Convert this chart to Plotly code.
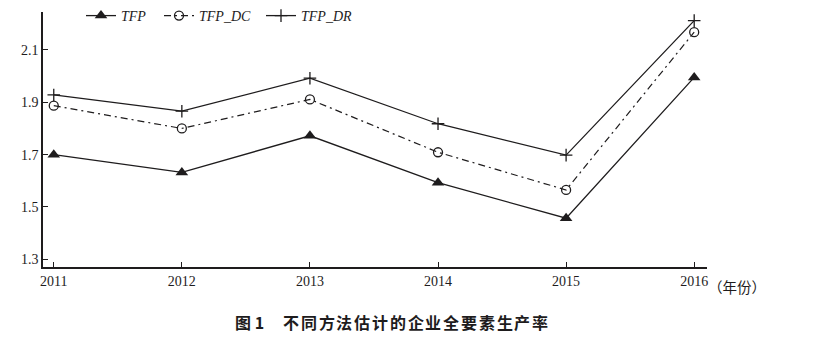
import plotly.graph_objects as go

# Years on the horizontal axis
years = [2011, 2012, 2013, 2014, 2015, 2016]

# Total factor productivity under three estimation methods
tfp = [1.70, 1.632, 1.772, 1.593, 1.457, 1.995]
tfp_dc = [1.887, 1.800, 1.911, 1.709, 1.565, 2.168]
tfp_dr = [1.928, 1.866, 1.992, 1.818, 1.698, 2.212]

y_ticks = [1.3, 1.5, 1.7, 1.9, 2.1]
y_tick_text = ["1.3", "1.5", "1.7", "1.9", "2.1"]

caption_label = "图 1"
caption_title = "不同方法估计的企业全要素生产率"

INK = "#1e1c1d"
SERIF = "Liberation Serif, Times New Roman, serif"
CJK = "Noto Sans CJK SC"

W, H = 822, 345
L, R, T, B = 43, 115, 12, 78

fig = go.Figure()

fig.add_trace(go.Scatter(
    x=years, y=tfp, mode="lines+markers", name="<i>TFP</i>",
    line=dict(color=INK, width=1.3),
    marker=dict(symbol="triangle-up", size=11, color=INK),
    legend="legend",
))
fig.add_trace(go.Scatter(
    x=years, y=tfp_dc, mode="lines+markers", name="<i>TFP_DC</i>",
    line=dict(color=INK, width=1.2, dash="7px,4px,2px,4px"),
    marker=dict(symbol="circle-open", size=9, color=INK, line=dict(width=1.3)),
    legend="legend2",
))
fig.add_trace(go.Scatter(
    x=years, y=tfp_dr, mode="lines+markers", name="<i>TFP_DR</i>",
    line=dict(color=INK, width=1.3),
    marker=dict(symbol="cross-thin-open", size=9, color=INK, line=dict(width=1.3, color=INK)),
    legend="legend3",
))

plot_w = W - L - R
plot_h = H - T - B


def px_x(px):
    """Horizontal pixel position -> paper fraction."""
    return (px - L) / plot_w


def px_y(py):
    """Vertical pixel position (from top) -> paper fraction."""
    return (H - B - py) / plot_h


def legend_at(px):
    return dict(
        x=px_x(px), xanchor="left",
        y=1.0, yref="container", yanchor="top",
        orientation="h", bgcolor="rgba(0,0,0,0)",
        font=dict(family=SERIF, size=14, color=INK),
        itemwidth=30,
    )


fig.update_layout(
    width=W, height=H,
    margin=dict(l=L, r=R, t=T, b=B, autoexpand=False),
    paper_bgcolor="white", plot_bgcolor="white",
    showlegend=True,
    legend=legend_at(81),
    legend2=legend_at(159),
    legend3=legend_at(261),
    xaxis=dict(
        range=[2010.916, 2016.1],
        tickmode="array", tickvals=years, ticktext=[str(y) for y in years],
        ticks="inside", ticklen=5, tickwidth=1.2, tickcolor=INK,
        showline=True, linecolor=INK, linewidth=1.6,
        showgrid=False, zeroline=False,
        tickfont=dict(family=SERIF, size=14, color=INK),
    ),
    yaxis=dict(
        range=[1.2706, 2.245],
        tickmode="array", tickvals=y_ticks, ticktext=y_tick_text,
        ticks="inside", ticklen=5, tickwidth=1.2, tickcolor=INK,
        showline=True, linecolor=INK, linewidth=1.6,
        showgrid=False, zeroline=False,
        tickfont=dict(family=SERIF, size=14, color=INK),
    ),
)

# Unit label after the last year tick
fig.add_annotation(
    x=2016, y=0, xref="x", yref="paper",
    text="（年份）", showarrow=False,
    xanchor="left", yanchor="top", xshift=12, yshift=-7,
    font=dict(family=CJK, size=14.5, color=INK),
)

# Figure caption: label, then title set with a little extra tracking
cap_y = px_y(322)
fig.add_annotation(
    x=px_x(233), y=cap_y, xref="paper", yref="paper",
    text=f"<b>{caption_label}</b>", showarrow=False,
    xanchor="left", yanchor="middle",
    font=dict(family=CJK, size=16, color=INK),
)
pitch = 17.8
for i, ch in enumerate(caption_title):
    fig.add_annotation(
        x=px_x(283 + i * pitch + pitch / 2 - 0.9), y=cap_y, xref="paper", yref="paper",
        text=f"<b>{ch}</b>", showarrow=False,
        xanchor="center", yanchor="middle",
        font=dict(family=CJK, size=16, color=INK),
    )

fig.write_html("out.html")
